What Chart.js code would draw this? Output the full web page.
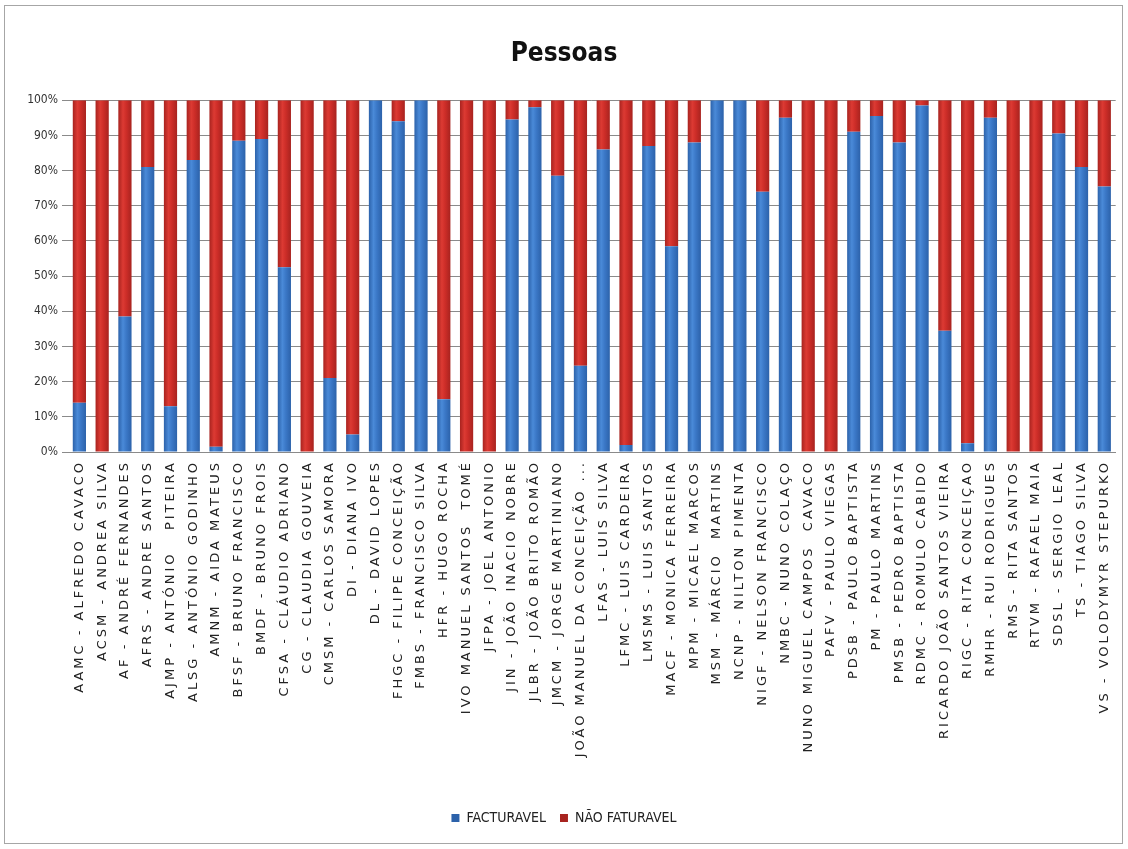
<!DOCTYPE html>
<html><head><meta charset="utf-8">
<script src="https://cdn.jsdelivr.net/npm/chart.js@4"></script>
<style>
html,body{margin:0;padding:0;background:#fff;}
#wrap{position:relative;width:1128px;height:849px;}
#frame{position:absolute;left:4px;top:5px;width:1119px;height:839px;border:1px solid #a6a6a6;box-sizing:border-box;pointer-events:none;}
canvas{position:absolute;left:0;top:0;}
</style></head><body>
<div id="wrap"><canvas id="c" width="1128" height="849"></canvas><div id="frame"></div></div>
<script>
const categories = [
  "AAMC - ALFREDO CAVACO","ACSM - ANDREA SILVA","AF - ANDRÉ FERNANDES","AFRS - ANDRE SANTOS",
  "AJMP - ANTÓNIO   PITEIRA","ALSG - ANTÓNIO GODINHO","AMNM - AIDA MATEUS","BFSF - BRUNO FRANCISCO",
  "BMDF - BRUNO FROIS","CFSA - CLÁUDIO ADRIANO","CG - CLAUDIA GOUVEIA","CMSM - CARLOS SAMORA",
  "DI - DIANA IVO","DL - DAVID LOPES","FHGC - FILIPE CONCEIÇÃO","FMBS - FRANCISCO SILVA",
  "HFR - HUGO ROCHA","IVO MANUEL SANTOS  TOMÉ","JFPA - JOEL ANTONIO","JIN - JOÃO INACIO NOBRE",
  "JLBR - JOÃO BRITO ROMÃO","JMCM - JORGE MARTINIANO","JOÃO MANUEL DA CONCEIÇÃO ...","LFAS - LUIS SILVA",
  "LFMC - LUIS CARDEIRA","LMSMS - LUIS SANTOS","MACF - MONICA FERREIRA","MPM - MICAEL MARCOS",
  "MSM - MÁRCIO  MARTINS","NCNP - NILTON PIMENTA","NIGF - NELSON FRANCISCO","NMBC - NUNO COLAÇO",
  "NUNO MIGUEL CAMPOS  CAVACO","PAFV - PAULO VIEGAS","PDSB - PAULO BAPTISTA","PM - PAULO MARTINS",
  "PMSB - PEDRO BAPTISTA","RDMC - ROMULO CABIDO","RICARDO JOÃO SANTOS VIEIRA","RIGC - RITA CONCEIÇAO",
  "RMHR - RUI RODRIGUES","RMS - RITA SANTOS","RTVM - RAFAEL MAIA","SDSL - SERGIO LEAL",
  "TS - TIAGO SILVA","VS - VOLODYMYR STEPURKO"
];
const facturavel = [
  14, 0, 38.5, 81, 13, 83, 1.5, 88.5, 89, 52.5,
  0, 21, 5, 100, 94, 100, 15, 0, 0, 94.5,
  98, 78.5, 24.5, 86, 2, 87, 58.5, 88, 100, 100,
  74, 95, 0, 0, 91, 95.5, 88, 98.5, 34.5, 2.5,
  95, 0, 0, 90.5, 81, 75.5
];
const naoFaturavel = [
  86, 100, 61.5, 19, 87, 17, 98.5, 11.5, 11, 47.5,
  100, 79, 95, 0, 6, 0, 85, 100, 100, 5.5,
  2, 21.5, 75.5, 14, 98, 13, 41.5, 12, 0, 0,
  26, 5, 100, 100, 9, 4.5, 12, 1.5, 65.5, 97.5,
  5, 100, 100, 9.5, 19, 24.5
];
const seriesNames = ["FACTURAVEL", "NÃO FATURAVEL"];
const chartTitle = "Pessoas";

const condensed = "'DejaVu Sans Condensed', 'Liberation Sans Narrow', sans-serif";
const BAR_PCT = 0.58;

function barFill(base, light, dark) {
  return (c) => {
    const chart = c.chart;
    const xs = chart.scales && chart.scales.x;
    if (c.type !== 'data' || !xs || !isFinite(xs.width) || xs.width <= 0) return base;
    const cx = xs.getPixelForValue(c.dataIndex);
    const w = xs.width / categories.length * BAR_PCT;
    const g = chart.ctx.createLinearGradient(cx - w / 2, 0, cx + w / 2, 0);
    g.addColorStop(0, dark);
    g.addColorStop(0.35, light);
    g.addColorStop(0.6, base);
    g.addColorStop(1, dark);
    return g;
  };
}

const spacingPlugin = {
  id: 'xLabelSpacing',
  afterUpdate(chart) {
    const s = chart.scales.x;
    if (s && !s._spacingPatched) {
      const orig = s.drawLabels.bind(s);
      s.drawLabels = function(area) {
        const ctx = this.ctx;
        ctx.save();
        ctx.letterSpacing = '3px';
        orig(area);
        ctx.restore();
      };
      s._spacingPatched = true;
    }
  }
};

new Chart(document.getElementById('c'), {
  type: 'bar',
  data: {
    labels: categories,
    datasets: [
      { label: seriesNames[0], data: facturavel, backgroundColor: barFill('#3b78c7', '#4a8ad8', '#2c62aa'), borderWidth: 0 },
      { label: seriesNames[1], data: naoFaturavel, backgroundColor: barFill('#cd2d28', '#dc3a33', '#a8231f'), borderWidth: 0 }
    ]
  },
  options: {
    responsive: false,
    animation: false,
    datasets: { bar: { categoryPercentage: 1, barPercentage: BAR_PCT } },
    layout: { padding: { left: 10, right: 10, top: 0, bottom: 14 } },
    plugins: {
      title: {
        display: true, text: chartTitle, color: '#111',
        font: { family: condensed, size: 26, weight: 'bold', lineHeight: 1.2 },
        padding: { top: 39, bottom: 30 }
      },
      legend: {
        position: 'bottom',
        labels: {
          boxWidth: 8, boxHeight: 8, padding: 14, color: '#222',
          font: { family: condensed, size: 14 }
        }
      },
      tooltip: { enabled: false }
    },
    scales: {
      x: {
        stacked: true,
        grid: { display: false, drawTicks: false },
        border: { display: true, color: '#8a8a8a' },
        ticks: {
          autoSkip: false, maxRotation: 90, minRotation: 90, padding: 8, color: '#222',
          font: { family: "'DejaVu Sans', sans-serif", size: 13 }
        },
        afterFit(scale) { scale.height = 345; }
      },
      y: {
        stacked: true, min: 0, max: 100,
        grid: { color: '#8a8a8a', lineWidth: 1, drawTicks: true, tickLength: 6 },
        border: { display: false },
        ticks: {
          stepSize: 10, padding: 4, color: '#333',
          font: { family: condensed, size: 12 },
          callback: v => v + '%'
        },
        afterFit(scale) { scale.width = 58; }
      }
    }
  },
  plugins: [spacingPlugin]
});
</script>
</body></html>
